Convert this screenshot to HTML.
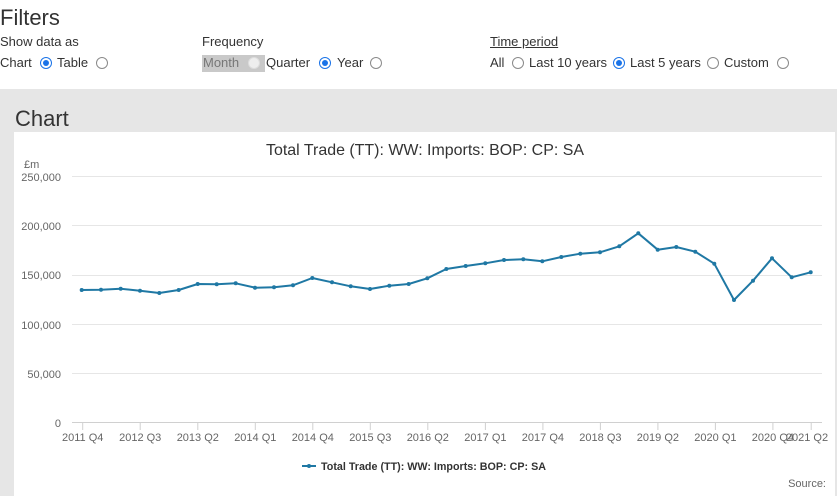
<!DOCTYPE html>
<html>
<head>
<meta charset="utf-8">
<style>
  html, body { margin:0; padding:0; }
  body { width:837px; height:496px; overflow:hidden; background:#fff; position:relative;
         font-family:"Liberation Sans", Arial, sans-serif; color:#333; }
  .abs { position:absolute; white-space:nowrap; }
  .h1 { font-size:22px; color:#333; }
  .lbl { font-size:13px; color:#333; }
  .radio { position:absolute; width:10px; height:10px; border-radius:50%; border:1px solid #8a8a8a; background:#fff; box-sizing:content-box; }
  .radio.on { border-color:#1a73e8; background:#fff; }
  .radio.on::after { content:""; position:absolute; left:2px; top:2px; width:6px; height:6px; border-radius:50%; background:#1a73e8; }
  .radio.dis { border-color:#ddd; background:#eee; }
  #panel { position:absolute; left:0; top:89px; width:837px; height:407px; background:#e6e6e6; }
  #white { position:absolute; left:14px; top:132px; width:821px; height:364px; background:#fff; }
</style>
</head>
<body>
  <div class="abs h1" style="left:0; top:5px;">Filters</div>

  <div class="abs lbl" style="left:0; top:34px;">Show data as</div>
  <div class="abs lbl" style="left:0; top:55px;">Chart</div>
  <div class="radio on" style="left:40px; top:57px;"></div>
  <div class="abs lbl" style="left:57px; top:55px;">Table</div>
  <div class="radio" style="left:96px; top:57px;"></div>

  <div class="abs lbl" style="left:202px; top:34px;">Frequency</div>
  <div class="abs" style="left:202px; top:55px; width:63px; height:17px; background:#c9c9c9;"></div>
  <div class="abs lbl" style="left:203px; top:55px; color:#777;">Month</div>
  <div class="radio dis" style="left:248px; top:57px;"></div>
  <div class="abs lbl" style="left:266px; top:55px;">Quarter</div>
  <div class="radio on" style="left:319px; top:57px;"></div>
  <div class="abs lbl" style="left:337px; top:55px;">Year</div>
  <div class="radio" style="left:370px; top:57px;"></div>

  <div class="abs lbl" style="left:490px; top:34px; text-decoration:underline;">Time period</div>
  <div class="abs lbl" style="left:490px; top:55px;">All</div>
  <div class="radio" style="left:512px; top:57px;"></div>
  <div class="abs lbl" style="left:529px; top:55px;">Last 10 years</div>
  <div class="radio on" style="left:613px; top:57px;"></div>
  <div class="abs lbl" style="left:630px; top:55px;">Last 5 years</div>
  <div class="radio" style="left:707px; top:57px;"></div>
  <div class="abs lbl" style="left:724px; top:55px;">Custom</div>
  <div class="radio" style="left:777px; top:57px;"></div>

  <div id="panel"></div>
  <div class="abs h1" style="left:15px; top:106px;">Chart</div>
  <div id="white"></div>

  <svg class="abs" style="left:0; top:0;" width="837" height="496" viewBox="0 0 837 496" xmlns="http://www.w3.org/2000/svg">
    <text x="425" y="155" text-anchor="middle" font-family="Liberation Sans, Arial, sans-serif" font-size="16" fill="#333" textLength="318" lengthAdjust="spacingAndGlyphs">Total Trade (TT): WW: Imports: BOP: CP: SA</text>

    <!-- gridlines -->
    <g stroke="#e6e6e6" stroke-width="1">
      <line x1="72" y1="176.5" x2="822" y2="176.5"/>
      <line x1="72" y1="225.5" x2="822" y2="225.5"/>
      <line x1="72" y1="275.5" x2="822" y2="275.5"/>
      <line x1="72" y1="324.5" x2="822" y2="324.5"/>
      <line x1="72" y1="373.5" x2="822" y2="373.5"/>
    </g>
    <line x1="72" y1="422.5" x2="822" y2="422.5" stroke="#d0d0d0" stroke-width="1"/>

    <!-- y labels -->
    <g font-family="Liberation Sans, Arial, sans-serif" font-size="11" fill="#666">
      <text x="24" y="168">£m</text>
    </g>
    <g font-family="Liberation Sans, Arial, sans-serif" font-size="11" fill="#666" text-anchor="end">
      <text x="61" y="181">250,000</text>
      <text x="61" y="230">200,000</text>
      <text x="61" y="279">150,000</text>
      <text x="61" y="329">100,000</text>
      <text x="61" y="378">50,000</text>
      <text x="61" y="427">0</text>
    </g>

    <!-- x ticks -->
    <g stroke="#d0d0d0" stroke-width="1">
      <line x1="82.7" y1="423" x2="82.7" y2="430"/>
      <line x1="140.2" y1="423" x2="140.2" y2="430"/>
      <line x1="197.8" y1="423" x2="197.8" y2="430"/>
      <line x1="255.3" y1="423" x2="255.3" y2="430"/>
      <line x1="312.8" y1="423" x2="312.8" y2="430"/>
      <line x1="370.3" y1="423" x2="370.3" y2="430"/>
      <line x1="427.8" y1="423" x2="427.8" y2="430"/>
      <line x1="485.4" y1="423" x2="485.4" y2="430"/>
      <line x1="542.9" y1="423" x2="542.9" y2="430"/>
      <line x1="600.4" y1="423" x2="600.4" y2="430"/>
      <line x1="657.9" y1="423" x2="657.9" y2="430"/>
      <line x1="715.4" y1="423" x2="715.4" y2="430"/>
      <line x1="772.9" y1="423" x2="772.9" y2="430"/>
      <line x1="811.2" y1="423" x2="811.2" y2="430"/>
    </g>
    <g font-family="Liberation Sans, Arial, sans-serif" font-size="11" fill="#666" text-anchor="middle">
      <text x="82.7" y="441">2011 Q4</text>
      <text x="140.2" y="441">2012 Q3</text>
      <text x="197.8" y="441">2013 Q2</text>
      <text x="255.3" y="441">2014 Q1</text>
      <text x="312.8" y="441">2014 Q4</text>
      <text x="370.3" y="441">2015 Q3</text>
      <text x="427.8" y="441">2016 Q2</text>
      <text x="485.4" y="441">2017 Q1</text>
      <text x="542.9" y="441">2017 Q4</text>
      <text x="600.4" y="441">2018 Q3</text>
      <text x="657.9" y="441">2019 Q2</text>
      <text x="715.4" y="441">2020 Q1</text>
      <text x="772.9" y="441">2020 Q4</text>
      <text x="807" y="441">2021 Q2</text>
    </g>

    <!-- series -->
    <polyline fill="none" stroke="#1f78a4" stroke-width="2" stroke-linejoin="round"
      points="81.7,290 101,289.7 120.7,288.7 140,290.7 159.3,293 178.7,290 197.7,284 216.7,284.3 235.7,283.3 255,287.7 274,287.3 293,285.3 312.3,278 332,282.3 350.7,286.3 370,289 389.3,285.7 408.7,284 427.3,278.3 446.3,269 465.7,266 485.3,263.3 504,260 523.3,259.3 542.3,261.3 561.3,257 580.3,253.7 600,252.3 619.3,246.3 638.3,233.3 657.7,249.7 676.3,247 695.3,251.7 714.3,263.7 734,300 753,280.7 772,258.3 791.7,277.3 810.7,272.3"/>
    <g fill="#1f78a4">
      <circle cx="81.7" cy="290" r="2"/><circle cx="101" cy="289.7" r="2"/><circle cx="120.7" cy="288.7" r="2"/>
      <circle cx="140" cy="290.7" r="2"/><circle cx="159.3" cy="293" r="2"/><circle cx="178.7" cy="290" r="2"/>
      <circle cx="197.7" cy="284" r="2"/><circle cx="216.7" cy="284.3" r="2"/><circle cx="235.7" cy="283.3" r="2"/>
      <circle cx="255" cy="287.7" r="2"/><circle cx="274" cy="287.3" r="2"/><circle cx="293" cy="285.3" r="2"/>
      <circle cx="312.3" cy="278" r="2"/><circle cx="332" cy="282.3" r="2"/><circle cx="350.7" cy="286.3" r="2"/>
      <circle cx="370" cy="289" r="2"/><circle cx="389.3" cy="285.7" r="2"/><circle cx="408.7" cy="284" r="2"/>
      <circle cx="427.3" cy="278.3" r="2"/><circle cx="446.3" cy="269" r="2"/><circle cx="465.7" cy="266" r="2"/>
      <circle cx="485.3" cy="263.3" r="2"/><circle cx="504" cy="260" r="2"/><circle cx="523.3" cy="259.3" r="2"/>
      <circle cx="542.3" cy="261.3" r="2"/><circle cx="561.3" cy="257" r="2"/><circle cx="580.3" cy="253.7" r="2"/>
      <circle cx="600" cy="252.3" r="2"/><circle cx="619.3" cy="246.3" r="2"/><circle cx="638.3" cy="233.3" r="2"/>
      <circle cx="657.7" cy="249.7" r="2"/><circle cx="676.3" cy="247" r="2"/><circle cx="695.3" cy="251.7" r="2"/>
      <circle cx="714.3" cy="263.7" r="2"/><circle cx="734" cy="300" r="2"/><circle cx="753" cy="280.7" r="2"/>
      <circle cx="772" cy="258.3" r="2"/><circle cx="791.7" cy="277.3" r="2"/><circle cx="810.7" cy="272.3" r="2"/>
    </g>

    <!-- legend -->
    <line x1="302" y1="466" x2="316" y2="466" stroke="#1f78a4" stroke-width="2"/>
    <circle cx="309" cy="466" r="2" fill="#1f78a4"/>
    <text x="321" y="470" font-family="Liberation Sans, Arial, sans-serif" font-size="11" font-weight="bold" fill="#333" textLength="225" lengthAdjust="spacingAndGlyphs">Total Trade (TT): WW: Imports: BOP: CP: SA</text>

    <text x="826" y="487" text-anchor="end" font-family="Liberation Sans, Arial, sans-serif" font-size="11" fill="#666">Source:</text>
  </svg>
</body>
</html>
